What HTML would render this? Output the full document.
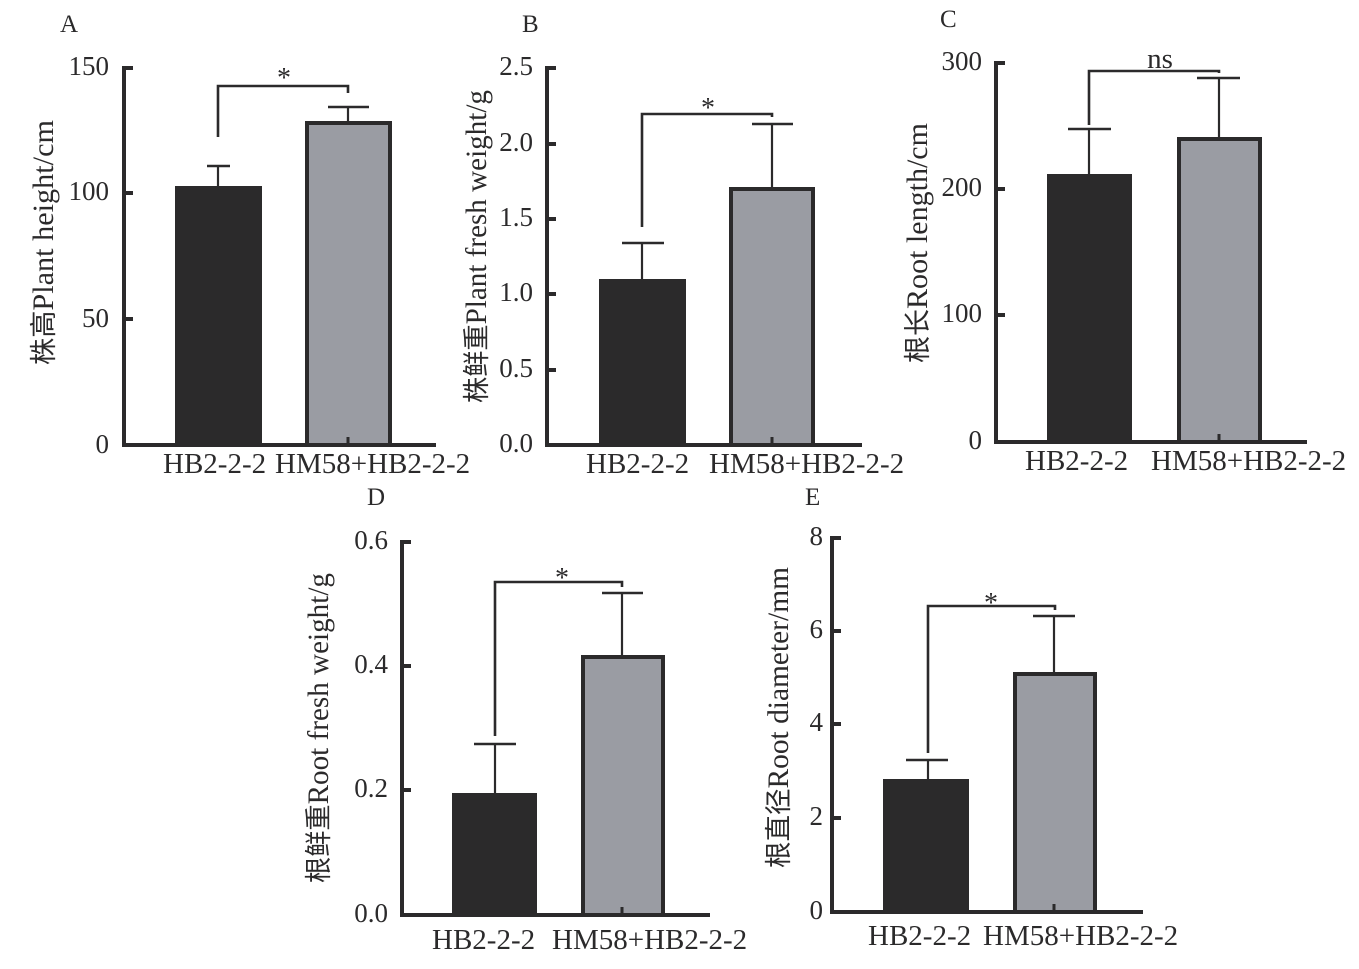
<!DOCTYPE html>
<html><head><meta charset="utf-8"><style>
html,body{margin:0;padding:0;background:#fff;}
svg{display:block;}
text{font-family:"Liberation Serif","Noto Serif CJK SC","Noto Sans CJK SC",serif;fill:#2b2a2b;}
.cjk{font-family:"Noto Sans CJK SC","Noto Serif CJK SC",sans-serif;font-size:27px;}
.tl{font-size:27px;text-anchor:end;}
.xl{font-size:29px;}
.yl{font-size:30px;}
.pl{font-size:25px;}
.ax{stroke:#2b2a2b;stroke-width:4;fill:none;}
.eb{stroke:#2b2a2b;stroke-width:2.2;fill:none;}
.cap{stroke:#2b2a2b;stroke-width:2.6;fill:none;}
.blk{fill:#2b2a2b;}
.gry{fill:#9a9ca3;stroke:#2b2a2b;stroke-width:4;}
</style></head><body>
<svg width="1359" height="969" viewBox="0 0 1359 969" xmlns="http://www.w3.org/2000/svg">

<!-- Panel A -->
<text class="pl" x="60" y="32">A</text>
<rect class="blk" x="175" y="186" width="87" height="259"/>
<rect class="gry" x="307" y="123" width="83" height="322"/>
<line class="ax" x1="124" y1="66" x2="124" y2="447"/>
<line class="ax" x1="122" y1="445" x2="436" y2="445"/>
<g class="ax"><line x1="124" y1="68" x2="133" y2="68"/><line x1="124" y1="193" x2="133" y2="193"/><line x1="124" y1="319" x2="133" y2="319"/></g>
<line x1="348" y1="437" x2="348" y2="445" stroke="#2b2a2b" stroke-width="3"/>
<text class="tl" x="109" y="75">150</text>
<text class="tl" x="109" y="200">100</text>
<text class="tl" x="109" y="327">50</text>
<text class="tl" x="109" y="453">0</text>
<line class="eb" x1="218" y1="186" x2="218" y2="166"/><line class="cap" x1="207" y1="166" x2="230" y2="166"/>
<line class="eb" x1="348" y1="121" x2="348" y2="107"/><line class="cap" x1="328" y1="107" x2="369" y2="107"/>
<path class="cap" d="M218 137 V86 H348 V93"/>
<text x="284" y="87" font-size="28" text-anchor="middle">*</text>
<text class="xl" x="163" y="473">HB2-2-2</text>
<text class="xl" x="275" y="473">HM58+HB2-2-2</text>
<text class="yl" transform="translate(53,365) rotate(-90)" textLength="245" lengthAdjust="spacingAndGlyphs"><tspan class="cjk">株高</tspan>Plant height/cm</text>

<!-- Panel B -->
<text class="pl" x="522" y="32">B</text>
<rect class="blk" x="599" y="279" width="87" height="166"/>
<rect class="gry" x="731" y="189" width="82" height="256"/>
<line class="ax" x1="547" y1="66" x2="547" y2="447"/>
<line class="ax" x1="545" y1="445" x2="862" y2="445"/>
<g class="ax"><line x1="547" y1="68" x2="556" y2="68"/><line x1="547" y1="144" x2="556" y2="144"/><line x1="547" y1="219" x2="556" y2="219"/><line x1="547" y1="294" x2="556" y2="294"/><line x1="547" y1="370" x2="556" y2="370"/></g>
<line x1="772" y1="437" x2="772" y2="445" stroke="#2b2a2b" stroke-width="3"/>
<text class="tl" x="533" y="75">2.5</text>
<text class="tl" x="533" y="151">2.0</text>
<text class="tl" x="533" y="226">1.5</text>
<text class="tl" x="533" y="301">1.0</text>
<text class="tl" x="533" y="377">0.5</text>
<text class="tl" x="533" y="452">0.0</text>
<line class="eb" x1="642" y1="279" x2="642" y2="243"/><line class="cap" x1="622" y1="243" x2="664" y2="243"/>
<line class="eb" x1="772" y1="187" x2="772" y2="124"/><line class="cap" x1="752" y1="124" x2="793" y2="124"/>
<path class="cap" d="M642 227 V114 H772 V117"/>
<text x="708" y="117" font-size="28" text-anchor="middle">*</text>
<text class="xl" x="586" y="473">HB2-2-2</text>
<text class="xl" x="709" y="473">HM58+HB2-2-2</text>
<text class="yl" transform="translate(486,403) rotate(-90)" textLength="313" lengthAdjust="spacingAndGlyphs"><tspan class="cjk">株鲜重</tspan>Plant fresh weight/g</text>

<!-- Panel C -->
<text class="pl" x="940" y="27">C</text>
<rect class="blk" x="1047" y="174" width="85" height="268"/>
<rect class="gry" x="1179" y="139" width="81" height="303"/>
<line class="ax" x1="996" y1="61" x2="996" y2="444"/>
<line class="ax" x1="994" y1="442" x2="1307" y2="442"/>
<g class="ax"><line x1="996" y1="63" x2="1005" y2="63"/><line x1="996" y1="189" x2="1005" y2="189"/><line x1="996" y1="315" x2="1005" y2="315"/></g>
<line x1="1219" y1="434" x2="1219" y2="442" stroke="#2b2a2b" stroke-width="3"/>
<text class="tl" x="982" y="70">300</text>
<text class="tl" x="982" y="196">200</text>
<text class="tl" x="982" y="322">100</text>
<text class="tl" x="982" y="449">0</text>
<line class="eb" x1="1089" y1="174" x2="1089" y2="129"/><line class="cap" x1="1068" y1="129" x2="1111" y2="129"/>
<line class="eb" x1="1219" y1="137" x2="1219" y2="78"/><line class="cap" x1="1197" y1="78" x2="1240" y2="78"/>
<path class="cap" d="M1089 125 V71 H1219 V73"/>
<text x="1160" y="68" font-size="29" text-anchor="middle">ns</text>
<text class="xl" x="1025" y="470">HB2-2-2</text>
<text class="xl" x="1151" y="470">HM58+HB2-2-2</text>
<text class="yl" transform="translate(927,363) rotate(-90)" textLength="240" lengthAdjust="spacingAndGlyphs"><tspan class="cjk">根长</tspan>Root length/cm</text>

<!-- Panel D -->
<text class="pl" x="367" y="505">D</text>
<rect class="blk" x="452" y="793" width="85" height="122"/>
<rect class="gry" x="583" y="657" width="80" height="258"/>
<line class="ax" x1="402" y1="540" x2="402" y2="917"/>
<line class="ax" x1="400" y1="915" x2="710" y2="915"/>
<g class="ax"><line x1="402" y1="542" x2="411" y2="542"/><line x1="402" y1="666" x2="411" y2="666"/><line x1="402" y1="790" x2="411" y2="790"/></g>
<line x1="622" y1="907" x2="622" y2="915" stroke="#2b2a2b" stroke-width="3"/>
<text class="tl" x="388" y="549">0.6</text>
<text class="tl" x="388" y="673">0.4</text>
<text class="tl" x="388" y="797">0.2</text>
<text class="tl" x="388" y="922">0.0</text>
<line class="eb" x1="495" y1="793" x2="495" y2="744"/><line class="cap" x1="474" y1="744" x2="516" y2="744"/>
<line class="eb" x1="622" y1="655" x2="622" y2="593"/><line class="cap" x1="602" y1="593" x2="643" y2="593"/>
<path class="cap" d="M495 736 V582 H622 V587"/>
<text x="562" y="587" font-size="28" text-anchor="middle">*</text>
<text class="xl" x="432" y="949">HB2-2-2</text>
<text class="xl" x="552" y="949">HM58+HB2-2-2</text>
<text class="yl" transform="translate(328,883) rotate(-90)" textLength="310" lengthAdjust="spacingAndGlyphs"><tspan class="cjk">根鲜重</tspan>Root fresh weight/g</text>

<!-- Panel E -->
<text class="pl" x="805" y="505">E</text>
<rect class="blk" x="883" y="779" width="86" height="133"/>
<rect class="gry" x="1015" y="674" width="80" height="238"/>
<line class="ax" x1="832" y1="536" x2="832" y2="914"/>
<line class="ax" x1="830" y1="912" x2="1143" y2="912"/>
<g class="ax"><line x1="832" y1="538" x2="841" y2="538"/><line x1="832" y1="631" x2="841" y2="631"/><line x1="832" y1="724" x2="841" y2="724"/><line x1="832" y1="818" x2="841" y2="818"/></g>
<line x1="1054" y1="904" x2="1054" y2="912" stroke="#2b2a2b" stroke-width="3"/>
<text class="tl" x="823" y="545">8</text>
<text class="tl" x="823" y="638">6</text>
<text class="tl" x="823" y="731">4</text>
<text class="tl" x="823" y="825">2</text>
<text class="tl" x="823" y="919">0</text>
<line class="eb" x1="928" y1="779" x2="928" y2="760"/><line class="cap" x1="906" y1="760" x2="948" y2="760"/>
<line class="eb" x1="1054" y1="672" x2="1054" y2="616"/><line class="cap" x1="1033" y1="616" x2="1075" y2="616"/>
<path class="cap" d="M928 753 V606 H1055 V610"/>
<text x="991" y="612" font-size="28" text-anchor="middle">*</text>
<text class="xl" x="868" y="945">HB2-2-2</text>
<text class="xl" x="983" y="945">HM58+HB2-2-2</text>
<text class="yl" transform="translate(788,868) rotate(-90)" textLength="301" lengthAdjust="spacingAndGlyphs"><tspan class="cjk">根直径</tspan>Root diameter/mm</text>

</svg>
</body></html>
